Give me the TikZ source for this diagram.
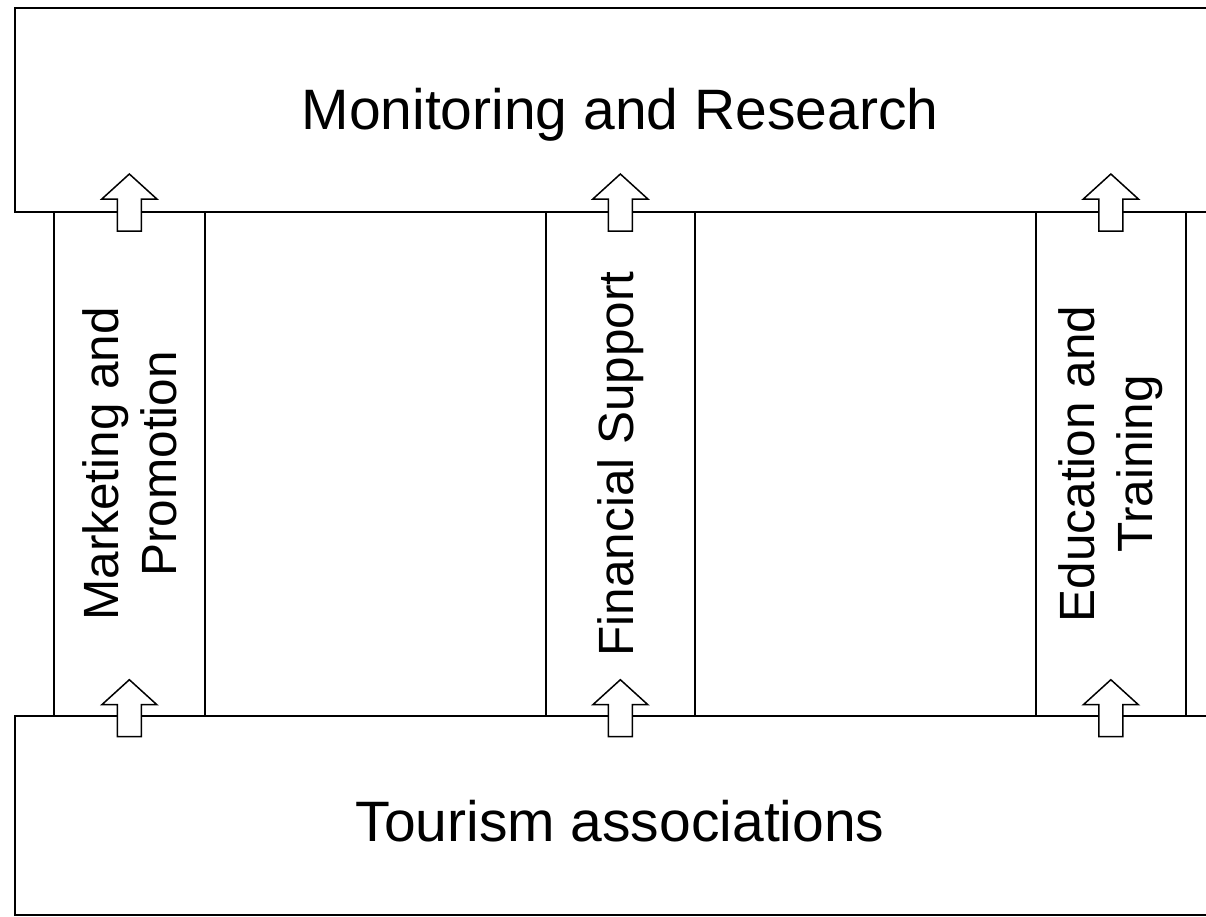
\documentclass[tikz,border=0pt]{standalone}
\usepackage{fontspec}
\setmainfont{Liberation Sans}
\begin{document}
\begin{tikzpicture}[x=1pt,y=-1pt,line width=1.7pt,
  box/.style={draw,fill=white,rectangle,inner sep=0pt,anchor=north west},
  col/.style={draw,fill=white,rectangle,inner sep=0pt,anchor=north west,
    minimum width=151pt,minimum height=504pt},
  hlbl/.style={font=\fontsize{57}{66}\selectfont,align=center,inner sep=0pt},
  vlbl/.style={font=\fontsize{49.5}{58}\selectfont,align=center,inner sep=0pt,rotate=90},
  uparrow/.pic={\draw[fill=white,line width=1.5pt]
    (-12,20) -- (-12,-12) -- (-27.5,-12) -- (0,-37) -- (27.5,-12) -- (12,-12) -- (12,20) -- cycle;}]
\clip (0,0) rectangle (1206,916);
\fill[white] (0,0) rectangle (1206,916);
% columns
\node[col] (c1) at (53,211) {};
\node[col,minimum width=149pt] (c2) at (545,211) {};
\node[col,minimum width=150pt] (c3) at (1035,211) {};
% top and bottom boxes
\node[box,minimum width=1230pt,minimum height=204pt] (top) at (14,7) {};
\node[box,minimum width=1230pt,minimum height=199pt] (bot) at (14,715) {};
% labels
\node[hlbl] (tlab) at (620,115) {Monitoring and Research};
\node[hlbl] (blab) at (620,821) {Tourism associations};
\node[vlbl] (l1) at (c1.center) {Marketing and\\Promotion};
\node[vlbl] (l2) at (c2.center) {Financial Support};
\node[vlbl] (l3) at (c3.center) {Education and\\Training};
% block arrows
\pic at (c1.north) {uparrow};
\pic at (c2.north) {uparrow};
\pic at (c3.north) {uparrow};
\pic at (c1.south) {uparrow};
\pic at (c2.south) {uparrow};
\pic at (c3.south) {uparrow};
\end{tikzpicture}
\end{document}
